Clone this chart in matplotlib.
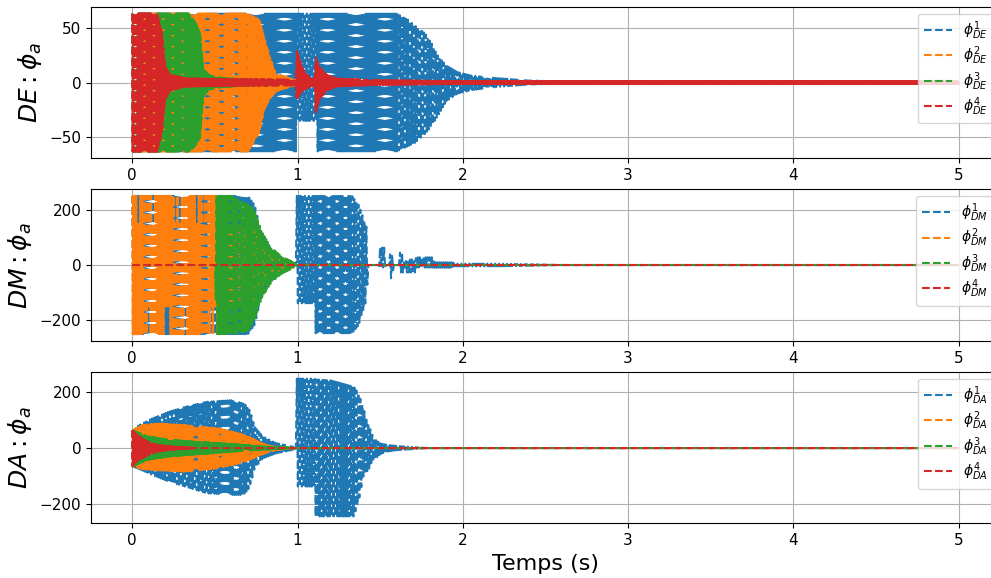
import numpy as np
import matplotlib.pyplot as plt

# half-period of the fast oscillation (s) for each trace, and end of the run
STEPS = [0.006, 0.003, 0.002, 0.002]
T_END = 5.0

# ---- DE panel: envelopes (time, upper, lower) ----
DE1_T = [0, 0.995, 1.0, 1.11, 1.115, 1.6, 1.67, 1.71, 1.77, 1.81, 1.85, 1.9, 1.97, 2.05, 2.21, 2.4, 2.6, 2.8, 5]
DE1_UP = [62.8, 62.8, 62.8, 62.8, 62.8, 62.8, 57, 52, 45, 36, 24, 15.5, 9.4, 6.4, 4, 2, 1, 0.3, 0.3]
DE1_LO = [-62.8, -62.8, -35, -35, -62.8, -62.8, -58, -55, -47, -40, -30, -17, -10, -7, -4, -2, -1, -0.3, -0.3]

DE2_T = [0, 0.70, 0.77, 0.80, 0.83, 0.87, 0.95, 1.0, 1.1, 1.3, 5]
DE2_UP = [62.8, 62.8, 57, 40, 25, 8, 4, 2, 1, 0.3, 0.3]
DE2_LO = [-62.8, -62.8, -45, -24, -15, -8, -4, -2, -1, -0.3, -0.3]

DE3_T = [0, 0.34, 0.38, 0.41, 0.43, 0.47, 0.55, 0.8, 1.0, 5]
DE3_UP = [62.8, 62.8, 55, 45, 12, 6, 4, 2, 1, 0.3]
DE3_LO = [-62.8, -62.8, -58, -50, -12, -6, -4, -2, -1, -0.3]

DE4_T = [0, 0.15, 0.18, 0.19, 0.20, 0.23, 0.32, 0.6, 0.99, 0.995, 1.025, 1.055, 1.08, 1.105, 1.11, 1.13, 1.175, 1.24, 1.5, 2.0, 5]
DE4_UP = [62.8, 62.8, 45, 28, 14.5, 7, 3.7, 3, 2.5, 29, 14.5, 7, 3.5, 3, 23.6, 14.5, 7, 3.5, 2, 1.3, 1.3]
DE4_LO = [-62.8, -62.8, -45, -28, -14.5, -7, -3.7, -3, -2.5, -16, -8, -5, -3.5, -3, -27, -16, -7, -3.5, -2, -1.3, -1.3]

# ---- DM panel ----
DM1_T = [0, 0.70, 0.74, 0.78, 0.84, 0.90, 0.96, 0.99, 0.995, 1.10, 1.11, 1.33, 1.37, 1.42, 1.425,
         1.49, 1.50, 1.53, 1.535, 1.555, 1.56, 1.575, 1.58, 1.615, 1.62, 1.64, 1.645,
         1.66, 1.71, 1.72, 1.82, 1.83, 1.94, 1.95, 2.2, 2.5, 2.6, 5]
DM1_UP = [251, 251, 218, 120, 60, 30, 10, 3, 251, 251, 251, 251, 218, 133, 0,
          0, 63, 63, 0, 0, 39, 39, 0, 0, 45, 45, 0,
          20, 20, 28, 28, 10, 10, 5, 5, 2, 0, 0]
DM1_LO = [-251, -251, -218, -120, -60, -30, -10, -3, -139, -139, -248, -248, -218, -120, 0,
          0, -9, -9, 0, 0, -48, -48, 0, 0, -27, -27, 0,
          -27, -27, -9, -9, -10, -10, -5, -5, -2, 0, 0]

DM2_T = [0, 0.51, 0.52, 0.56, 0.57, 0.74, 0.76, 0.82, 0.88, 0.94, 0.98, 1.0, 5]
DM2_UP = [251, 251, 140, 140, 140, 130, 109, 48, 30, 18, 5, 0, 0]
DM2_LO = [-251, -251, -251, -251, -150, -140, -100, -48, -30, -18, -5, 0, 0]
# short drops of the orange trace where the blue one shows through
DM2_DIPS_UP = [0.035, 0.125, 0.26, 0.29, 0.39, 0.43]
DM2_DIPS_LO = [0.10, 0.20, 0.22, 0.32, 0.48, 0.50]

DM3_T = [0, 0.50, 0.51, 0.60, 0.70, 0.74, 0.78, 0.84, 0.90, 0.96, 1.0, 5]
DM3_UP = [0, 0, 251, 251, 220, 200, 124, 64, 33, 15, 0, 0]
DM3_LO = [0, 0, -251, -251, -240, -200, -124, -64, -33, -15, 0, 0]

DM4_T = [0, 5]
DM4_UP = [0, 0]
DM4_LO = [0, 0]

# ---- DA panel ----
DA1_T = [0, 0.04, 0.12, 0.22, 0.32, 0.45, 0.61, 0.67, 0.70, 0.72, 0.74, 0.79, 0.87, 0.97, 0.99,
         0.995, 1.10, 1.11, 1.20, 1.34, 1.37, 1.40, 1.43, 1.46, 1.50, 1.54, 1.60, 1.70, 1.80, 5]
DA1_UP = [64, 82, 106, 130, 148, 166, 172, 160, 150, 118, 77, 42, 18, 6, 3,
          249, 249, 246, 243, 220, 195, 140, 83, 35, 17, 12, 8, 4, 0, 0]
DA1_LO = [-66, -75, -96, -120, -138, -162, -168, -168, -150, -120, -73, -37, -19, -7, -3,
          -138, -138, -245, -245, -245, -190, -96, -78, -45, -22, -13, -8, -4, 0, 0]

DA2_T = [0, 0.06, 0.16, 0.32, 0.52, 0.65, 0.73, 0.77, 0.83, 0.87, 0.93, 1.0, 5]
DA2_UP = [64, 82, 88, 82, 70, 52, 34, 20, 8, 5, 2.4, 0, 0]
DA2_LO = [-66, -75, -80, -84, -72, -54, -37, -25, -13, -7, -3, 0, 0]

DA3_T = [0, 0.09, 0.22, 0.42, 0.62, 0.77, 0.94, 1.0, 5]
DA3_UP = [64, 42, 30, 21, 14, 6, 2, 0, 0]
DA3_LO = [-66, -42, -30, -21, -12, -6, -2, 0, 0]

DA4_T = [0, 0.03, 0.09, 0.15, 0.23, 0.33, 0.4, 5]
DA4_UP = [64, 46, 23, 11, 6, 2.4, 0, 0]
DA4_LO = [-66, -45, -27, -13, -6, -2.4, 0, 0]

COLORS = ["tab:blue", "tab:orange", "tab:green", "tab:red"]


def oscillate(step, t_env, up, lo, dips_up=(), dips_lo=(), dip_level=150):
    """Fast oscillation swinging between the upper and lower envelope."""
    t = np.arange(0, T_END + step / 2, step)
    hi = np.interp(t, t_env, up)
    low = np.interp(t, t_env, lo)
    for d in dips_up:
        hi[np.abs(t - d) < 0.008] = dip_level
    for d in dips_lo:
        low[np.abs(t - d) < 0.008] = -dip_level
    y = np.where(np.arange(len(t)) % 2 == 0, hi, low)
    return t, y


panels = [
    ("DE", [(DE1_T, DE1_UP, DE1_LO), (DE2_T, DE2_UP, DE2_LO),
            (DE3_T, DE3_UP, DE3_LO), (DE4_T, DE4_UP, DE4_LO)]),
    ("DM", [(DM1_T, DM1_UP, DM1_LO), (DM2_T, DM2_UP, DM2_LO, DM2_DIPS_UP, DM2_DIPS_LO),
            (DM3_T, DM3_UP, DM3_LO), (DM4_T, DM4_UP, DM4_LO)]),
    ("DA", [(DA1_T, DA1_UP, DA1_LO), (DA2_T, DA2_UP, DA2_LO),
            (DA3_T, DA3_UP, DA3_LO), (DA4_T, DA4_UP, DA4_LO)]),
]

fig = plt.figure(figsize=(9.91, 5.78), dpi=100)
boxes = [
    [0.0918, 0.7261, 0.9173, 0.2623],
    [0.0918, 0.4100, 0.9173, 0.2630],
    [0.0918, 0.0946, 0.9173, 0.2623],
]

for box, (name, series) in zip(boxes, panels):
    ax = fig.add_axes(box)
    for i, s in enumerate(series):
        step = STEPS[i]
        if name == "DM" and i == 2:
            step = 0.005  # green DM trace is patchier
        t, y = oscillate(step, *s)
        ax.plot(t, y, "--", color=COLORS[i], lw=1.5,
                label=r"$\phi^{%d}_{%s}$" % (i + 1, name))
    ax.set_ylabel(r"$%s : \phi_a$" % name, fontsize=18)
    ax.tick_params(labelsize=11)
    ax.grid(True)
    ax.legend(loc="upper right", fontsize=10, labelspacing=0.2)
    if name == "DA":
        ax.set_xlabel("Temps (s)", fontsize=16)

fig.savefig("out.png", dpi=100)
